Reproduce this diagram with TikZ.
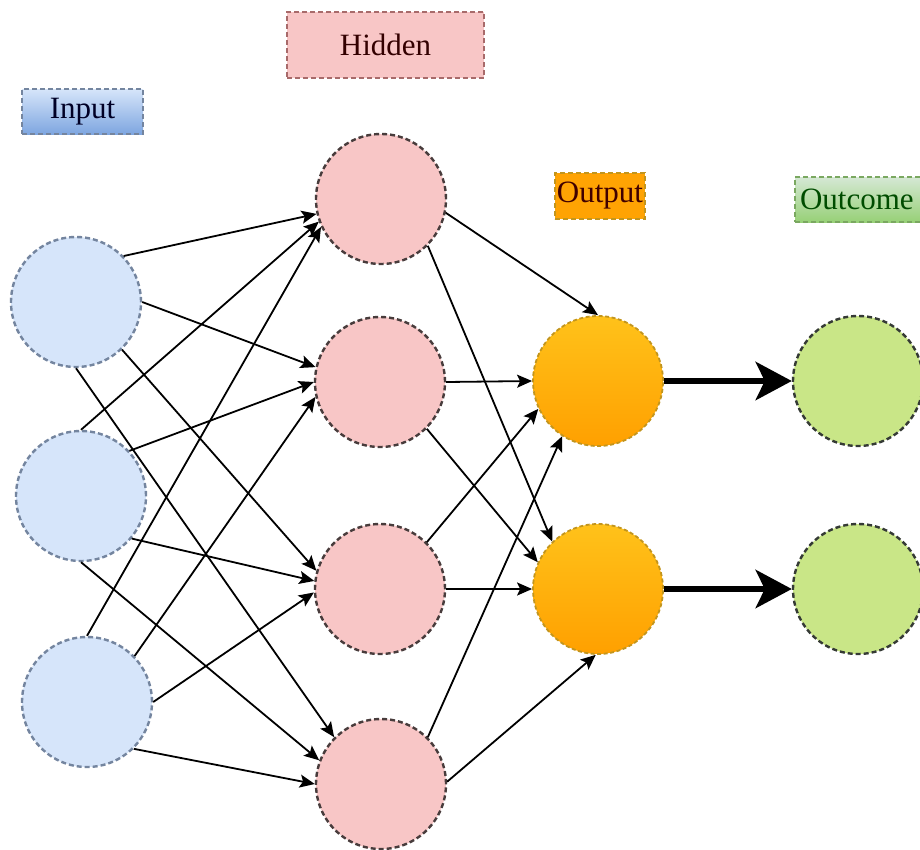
\documentclass[tikz,border=0pt]{standalone}
\usepackage{fontspec}
\setmainfont{Liberation Serif}
\usetikzlibrary{arrows.meta}
\definecolor{infill}{HTML}{D6E5FA}
\definecolor{indraw}{HTML}{74859F}
\definecolor{hidfill}{HTML}{F8C6C6}
\definecolor{hiddraw}{HTML}{483C3C}
\definecolor{outtop}{HTML}{FFC21A}
\definecolor{outbot}{HTML}{FFA000}
\definecolor{outdraw}{HTML}{C2951E}
\definecolor{resfill}{HTML}{C9E687}
\definecolor{resdraw}{HTML}{353A35}
\definecolor{inboxbot}{HTML}{7EA6E0}
\definecolor{hidboxdraw}{HTML}{A86A6A}
\definecolor{resboxtop}{HTML}{D5E8D4}
\definecolor{resboxbot}{HTML}{97D077}
\definecolor{resboxdraw}{HTML}{7AA860}
\tikzset{
  neuron/.style={circle, minimum size=130pt, inner sep=0pt, line width=2.4pt, dash pattern=on 5pt off 3pt},
  innode/.style={neuron, fill=infill, draw=indraw},
  hidnode/.style={neuron, fill=hidfill, draw=hiddraw},
  outnode/.style={neuron, top color=outtop, bottom color=outbot, draw=outdraw, line width=1.8pt, dash pattern=on 4pt off 2.5pt},
  resnode/.style={neuron, fill=resfill, draw=resdraw},
  labelbox/.style={rectangle, inner sep=0pt, line width=1.6pt, dash pattern=on 5pt off 3pt, font=\fontsize{31}{36}\selectfont},
  edge/.style={line width=1.8pt, -{Stealth[length=15pt,width=13pt,inset=3pt]}},
  bigedge/.style={line width=6.5pt, -{Stealth[length=36pt,width=38pt,inset=9pt]}},
}
\begin{document}
\begin{tikzpicture}[x=1pt,y=-1pt]
\clip (0,0) rectangle (920,849);
\fill[white] (0,0) rectangle (920,849);
% label boxes
\node[labelbox, minimum width=121pt, minimum height=45pt, top color=infill, bottom color=inboxbot, draw=indraw, text=black!85!blue] (linput) at (82.5,111.5) {Input};
\node[labelbox, minimum width=197pt, minimum height=66pt, fill=hidfill, draw=hidboxdraw, text=black!80!red] (lhidden) at (385.5,45) {Hidden};
\node[labelbox, minimum width=90pt, minimum height=46pt, fill=outbot!90!outtop, draw=outdraw, text=black!75!red] (loutput) at (600,196) {Output};
\node[labelbox, minimum width=140pt, minimum height=45pt, top color=resboxtop, bottom color=resboxbot, draw=resboxdraw, text=black!70!green, text width=130pt, align=left] (loutcome) at (865,199.5) {Outcome};
% neurons
\node[innode] (I1) at (76,302) {};
\node[innode] (I2) at (81,496) {};
\node[innode] (I3) at (87,702) {};
\node[hidnode] (H1) at (381,199) {};
\node[hidnode] (H2) at (380,382) {};
\node[hidnode] (H3) at (380,589) {};
\node[hidnode] (H4) at (381,784) {};
\node[outnode] (O1) at (598,381) {};
\node[outnode] (O2) at (598,589) {};
\node[resnode] (R1) at (858,381) {};
\node[resnode] (R2) at (858,589) {};
% input -> hidden
\draw[edge] (I1.44) -- (H1.193);
\draw[edge] (I1.0) -- (H2.167);
\draw[edge] (I1.-46) -- (H3.164);
\draw[edge] (I1.-90) -- (H4.135);
\draw[edge] (I2.90) -- (H1.200);
\draw[edge] (I2.43) -- (H2.180);
\draw[edge] (I2.-40) -- (H3.173);
\draw[edge] (I2.-90) -- (H4.159);
\draw[edge] (I3.90) -- (H1.205);
\draw[edge] (I3.44) -- (H2.193);
\draw[edge] (I3.0) -- (H3.183);
\draw[edge] (I3.-45) -- (H4.180);
% hidden -> output
\draw[edge] (H1.-12) -- (O1.90);
\draw[edge] (H1.-45) -- (O2.134);
\draw[edge] (H2.0) -- (O1.180);
\draw[edge] (H2.-45) -- (O2.156);
\draw[edge] (H3.45) -- (O1.205);
\draw[edge] (H3.0) -- (O2.180);
\draw[edge] (H4.45) -- (O1.237);
\draw[edge] (H4.2) -- (O2.268);
% output -> outcome
\draw[bigedge] (O1.0) -- (R1.180);
\draw[bigedge] (O2.0) -- (R2.180);
\end{tikzpicture}
\end{document}
